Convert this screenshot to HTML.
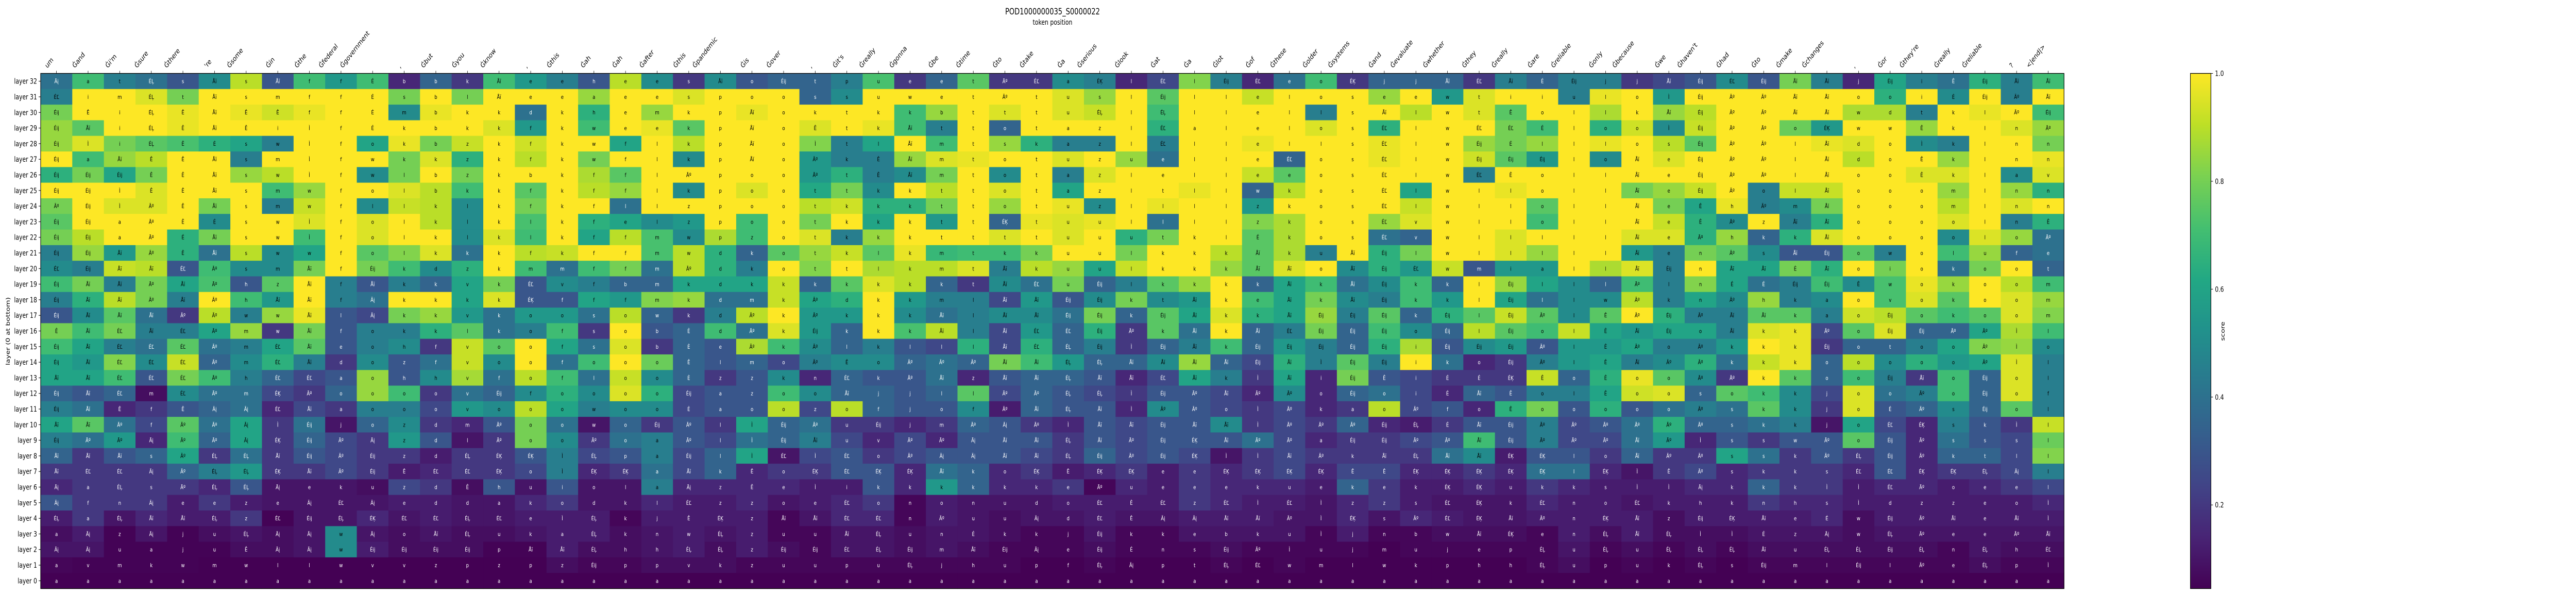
<!DOCTYPE html>
<html><head><meta charset="utf-8"><style>
html,body{margin:0;padding:0;background:#fff;width:100vw;height:100vh;overflow:hidden;}
svg{display:block;font-family:"DejaVu Sans","Liberation Sans",sans-serif;overflow:hidden;width:100vw;height:100vh;}
</style></head><body>
<svg id="chart" viewBox="0 0 6400 1155" preserveAspectRatio="none" xmlns="http://www.w3.org/2000/svg">
<text x="2615" y="28" font-size="16.7" text-anchor="middle" fill="#000">POD1000000035_S0000022</text>
<text x="2615" y="48" font-size="13.9" text-anchor="middle" fill="#000">token position</text>
<text transform="translate(24,643) rotate(-90)" font-size="13.9" text-anchor="middle" fill="#000">layer (0 at bottom)</text>
<g id="cells"></g>
<g id="xaxis"></g>
<g id="yaxis"></g>
<rect x="101" y="142.5" width="5027" height="1000" fill="none" stroke="#000" stroke-width="1.3"/>
<defs><linearGradient id="vir" x1="0" y1="1" x2="0" y2="0">
<stop offset="0" stop-color="#440154"/><stop offset="0.1" stop-color="#482475"/><stop offset="0.2" stop-color="#414487"/><stop offset="0.3" stop-color="#355f8d"/><stop offset="0.4" stop-color="#2a788e"/><stop offset="0.5" stop-color="#21918c"/><stop offset="0.6" stop-color="#22a884"/><stop offset="0.7" stop-color="#44bf70"/><stop offset="0.8" stop-color="#7ad151"/><stop offset="0.9" stop-color="#bddf26"/><stop offset="1" stop-color="#fde725"/>
</linearGradient></defs>
<rect x="5442" y="142.5" width="51" height="1000" fill="url(#vir)" stroke="#000" stroke-width="1.3"/>
<g id="cbar"></g>
<text transform="translate(5527,643) rotate(-90)" font-size="13.9" text-anchor="middle" fill="#000">score</text>
</svg>
<script>
const layerLabels = ["layer 32","layer 31","layer 30","layer 29","layer 28","layer 27","layer 26","layer 25","layer 24","layer 23","layer 22","layer 21","layer 20","layer 19","layer 18","layer 17","layer 16","layer 15","layer 14","layer 13","layer 12","layer 11","layer 10","layer 9","layer 8","layer 7","layer 6","layer 5","layer 4","layer 3","layer 2","layer 1","layer 0"];
const tokens = ["um","Ġand","Ġi'm","Ġsure","Ġthere","'re","Ġsome","Ġin","Ġthe","Ġfederal","Ġgovernment",",","Ġbut","Ġyou","Ġknow",",","Ġthis","Ġah","Ġah","Ġafter","Ġthis","Ġpandemic","Ġis","Ġover",",","Ġit's","Ġreally","Ġgonna","Ġbe","Ġtime","Ġto","Ġtake","Ġa","Ġserious","Ġlook","Ġat","Ġa","Ġlot","Ġof","Ġthese","Ġolder","Ġsystems","Ġand","Ġevaluate","Ġwhether","Ġthey","Ġreally","Ġare","Ġreliable","Ġonly","Ġbecause","Ġwe","Ġhaven't","Ġhad","Ġto","Ġmake","Ġchanges",",","Ġor","Ġthey're","Ġreally","Ġreliable","?","<|end|>"];
const colorTicks = [0.2,0.4,0.6,0.8,1.0];
const colorMin = 0.045, colorMax = 1.0;
// scores per token column, rows listed from layer 32 down to layer 0
const scores = [
[0.4,0.45,0.8,0.85,0.85,1,0.65,1,0.8,0.75,0.8,0.45,0.5,0.7,0.45,0.3,0.8,0.7,0.6,0.6,0.35,0.45,0.6,0.45,0.35,0.2,0.15,0.3,0.12,0.08,0.1,0.06,0.02],
[0.7,1,1,0.75,0.95,0.7,0.8,1,1,1,0.9,0.85,0.45,0.8,0.65,0.5,0.7,0.6,0.55,0.6,0.3,0.4,0.75,0.4,0.2,0.2,0.2,0.2,0.2,0.12,0.1,0.05,0.02],
[0.45,1,1,1,0.8,0.85,0.6,1,0.95,1,1,0.55,0.92,0.45,0.9,0.75,0.8,0.45,0.82,0.7,0.35,0.15,0.4,0.55,0.3,0.2,0.2,0.2,0.1,0.05,0.05,0.05,0.02],
[0.4,0.95,1,1,0.75,0.9,0.8,0.95,0.95,1,1,0.85,0.9,0.8,0.8,0.4,0.45,0.4,0.5,0.3,0.08,0.2,0.25,0.15,0.35,0.2,0.2,0.2,0.15,0.1,0.05,0.05,0.02],
[0.3,0.8,0.97,0.97,0.72,1,1,1,1,1,0.65,0.65,0.3,0.6,0.45,0.2,0.45,0.75,0.92,0.8,0.5,0.3,0.75,0.7,0.6,0.35,0.2,0.12,0.12,0.05,0.05,0.05,0.02],
[0.5,1,1,1,0.65,1,1,1,0.8,0.5,0.8,0.4,0.7,0.72,1,0.9,0.6,0.4,0.35,0.7,0.4,0.35,0.4,0.35,0.2,0.45,0.15,0.2,0.12,0.08,0.05,0.04,0.02],
[0.9,1,0.97,1,0.6,0.45,0.85,1,1,1,1,0.9,0.5,0.3,0.7,0.45,0.85,0.45,0.5,0.45,0.4,0.4,0.6,0.6,0.4,0.55,0.3,0.12,0.2,0.1,0.08,0.04,0.02],
[0.3,1,0.93,1,0.45,1,0.9,0.7,0.45,1,1,0.5,0.5,0.75,0.55,0.85,0.2,0.6,0.65,0.35,0.25,0.15,0.2,0.2,0.2,0.2,0.1,0.1,0.05,0.08,0.08,0.04,0.02],
[0.7,1,0.97,1,1,1,1,0.85,0.92,0.95,0.7,0.6,0.8,1,1,0.97,0.8,0.75,0.45,0.25,0.2,0.25,0.4,0.35,0.3,0.2,0.1,0.1,0.1,0.1,0.1,0.04,0.02],
[0.55,1,1,1,1,1,1,1,1,1,1,1,1,0.45,0.45,0.3,0.3,0.3,0.2,0.3,0.35,0.2,0.1,0.25,0.25,0.25,0.1,0.1,0.1,0.5,0.5,0.04,0.02],
[0.7,1,1,1,0.6,1,0.5,1,0.5,0.95,0.95,0.75,0.8,0.3,0.4,0.25,0.45,0.45,0.5,0.85,0.85,0.45,0.35,0.2,0.2,0.2,0.08,0.1,0.15,0.1,0.12,0.04,0.02],
[0.15,0.8,0.5,1,0.97,0.8,0.8,0.95,0.92,1,1,0.82,0.7,0.45,1,0.8,0.45,0.5,0.3,0.3,0.7,0.45,0.5,0.55,0.2,0.12,0.25,0.12,0.1,0.08,0.08,0.04,0.02],
[0.35,1,0.97,1,0.8,0.95,1,0.9,0.9,0.9,1,0.95,0.5,0.35,1,0.85,0.65,0.2,0.4,0.5,0.2,0.25,0.2,0.3,0.12,0.15,0.2,0.12,0.12,0.1,0.08,0.04,0.02],
[0.2,0.8,1,1,0.92,0.65,0.8,0.7,0.5,0.5,0.5,0.4,0.65,0.6,0.6,0.55,0.75,0.92,0.92,0.87,0.4,0.55,0.15,0.1,0.2,0.2,0.08,0.1,0.1,0.08,0.08,0.04,0.02],
[0.7,1,1,0.95,1,1,1,1,1,1,0.95,1,1,0.8,0.95,0.4,0.4,0.75,0.5,0.4,0.35,0.5,0.3,0.2,0.2,0.2,0.3,0.1,0.1,0.08,0.05,0.04,0.02],
[0.55,1,0.4,0.55,0.93,0.9,1,0.75,0.8,0.72,0.7,0.9,0.7,0.3,0.3,0.55,0.45,1,1,0.9,0.5,0.9,0.8,0.8,0.3,0.25,0.1,0.15,0.12,0.1,0.05,0.04,0.02],
[0.45,1,1,1,1,1,1,1,1,1,1,0.92,0.4,0.5,0.3,0.55,0.7,0.6,0.4,0.7,0.65,0.6,0.4,0.5,0.45,0.45,0.3,0.2,0.12,0.12,0.12,0.08,0.02],
[0.3,0.85,0.65,0.7,1,0.8,0.88,0.9,1,0.65,0.6,1,0.7,0.45,0.6,0.4,0.2,0.4,0.7,0.4,0.5,0.45,0.1,0.2,0.25,0.15,0.1,0.1,0.12,0.12,0.08,0.06,0.02],
[0.9,1,1,1,0.6,1,0.75,0.85,0.4,0.6,0.9,1,0.8,0.35,0.55,0.9,1,0.95,1,0.92,0.95,0.5,0.35,0.4,0.3,0.2,0.1,0.1,0.06,0.08,0.08,0.06,0.02],
[0.5,1,0.85,0.97,1,1,1,1,1,0.5,0.72,0.72,0.4,0.35,0.82,0.35,0.3,0.2,0.78,0.5,0.65,0.5,0.2,0.45,0.45,0.4,0.45,0.15,0.12,0.1,0.1,0.08,0.02],
[0.2,0.95,1,0.75,0.9,0.5,1,0.5,1,0.55,0.5,0.9,0.9,0.6,0.85,0.2,0.35,0.35,0.35,0.35,0.25,0.25,0.3,0.3,0.25,0.25,0.15,0.12,0.12,0.12,0.12,0.08,0.02],
[0.5,1,1,1,1,1,1,1,1,1,0.88,0.65,0.65,0.6,0.4,0.45,0.7,0.3,0.3,0.2,0.3,0.3,0.2,0.25,0.35,0.35,0.15,0.12,0.12,0.1,0.08,0.08,0.02],
[0.3,1,0.97,1,1,1,1,0.95,1,0.7,0.7,0.35,0.45,0.6,0.4,0.9,0.4,0.88,0.35,0.3,0.3,0.3,0.6,0.4,0.6,0.15,0.15,0.15,0.12,0.12,0.12,0.06,0.02],
[0.35,1,1,1,1,1,1,1,1,1,1,0.75,1,0.92,0.92,1,0.95,0.7,0.25,0.5,0.7,0.9,0.35,0.35,0.1,0.2,0.15,0.1,0.06,0.06,0.08,0.06,0.02],
[0.35,0.35,1,0.95,0.82,0.55,0.55,0.62,0.9,0.8,0.95,0.85,0.82,0.35,0.6,0.55,0.55,0.5,0.45,0.15,0.5,0.25,0.4,0.45,0.25,0.2,0.12,0.12,0.1,0.06,0.06,0.06,0.02],
[0.45,0.5,1,1,0.45,0.45,0.65,0.8,0.93,1,0.45,0.92,1,0.75,0.65,0.55,0.35,0.35,0.5,0.35,0.35,0.9,0.2,0.25,0.3,0.3,0.12,0.15,0.15,0.1,0.1,0.06,0.02],
[0.72,1,1,0.97,0.6,0.45,0.45,0.5,0.65,0.6,0.85,0.75,0.88,0.95,1,1,1,0.45,0.5,0.3,0.35,0.35,0.2,0.15,0.2,0.3,0.3,0.2,0.15,0.1,0.1,0.06,0.02],
[0.2,1,0.7,0.7,1,0.85,0.5,1,0.65,1,1,0.97,0.9,0.9,0.55,0.5,0.72,0.3,0.35,0.3,0.3,0.3,0.15,0.25,0.25,0.15,0.15,0.06,0.06,0.08,0.08,0.06,0.02],
[0.35,1,0.85,0.45,0.7,0.95,0.8,0.9,0.8,0.55,1,0.68,0.9,0.35,0.45,0.4,0.9,0.25,0.4,0.4,0.35,0.3,0.2,0.15,0.3,0.4,0.55,0.12,0.12,0.1,0.1,0.06,0.02],
[0.75,1,1,1,1,0.97,1,1,1,1,1,0.7,0.95,0.2,0.45,0.45,0.45,0.65,0.35,0.15,0.75,0.5,0.35,0.3,0.3,0.35,0.35,0.1,0.1,0.1,0.08,0.06,0.02],
[0.2,1,0.95,0.35,0.85,1,0.5,0.95,0.85,0.35,0.95,0.7,0.45,0.5,0.25,0.5,0.25,0.25,0.8,0.3,0.25,0.12,0.3,0.3,0.3,0.15,0.15,0.1,0.08,0.08,0.06,0.06,0.02],
[0.2,1,1,1,0.65,1,1,1,1,0.97,1,0.8,0.9,0.4,0.55,0.5,0.55,0.65,0.7,0.35,0.35,0.35,0.2,0.3,0.25,0.2,0.15,0.1,0.1,0.06,0.06,0.04,0.02],
[0.5,0.95,0.95,1,0.45,0.95,0.45,0.6,0.97,0.95,0.95,1,0.85,0.8,0.3,0.4,0.35,0.35,0.55,0.35,0.3,0.3,0.15,0.2,0.2,0.12,0.2,0.12,0.1,0.06,0.06,0.04,0.02],
[0.45,0.85,0.92,1,0.45,1,0.95,1,0.5,0.97,1,1,0.6,0.35,0.5,0.8,0.65,0.45,0.35,0.3,0.25,0.3,0.3,0.3,0.35,0.15,0.06,0.12,0.12,0.1,0.08,0.06,0.02],
[0.15,1,1,1,1,0.85,1,1,1,1,0.65,0.8,0.92,0.45,0.8,0.35,0.2,0.2,0.35,0.15,0.2,0.15,0.25,0.25,0.25,0.2,0.15,0.12,0.1,0.06,0.06,0.04,0.02],
[0.25,0.75,0.7,0.65,0.45,0.4,1,1,0.97,0.4,0.8,1,1,0.75,0.5,0.75,0.75,0.35,0.5,0.25,0.3,0.5,0.3,0.3,0.3,0.12,0.12,0.12,0.1,0.06,0.06,0.04,0.02],
[0.82,1,1,1,1,1,1,0.97,1,1,1,1,1,0.85,0.55,0.6,0.4,0.45,0.85,0.6,0.3,0.3,0.3,0.3,0.25,0.2,0.2,0.2,0.12,0.1,0.06,0.04,0.02],
[0.45,1,1,1,1,1,1,1,1,1,1,0.9,0.85,1,1,0.95,1,0.7,0.35,0.45,0.25,0.25,0.5,0.3,0.1,0.15,0.15,0.15,0.12,0.1,0.08,0.06,0.02],
[0.15,0.92,1,1,0.97,1,0.92,0.35,0.55,0.82,0.75,0.75,0.75,0.35,0.7,0.65,0.35,0.35,0.25,0.2,0.15,0.2,0.2,0.4,0.2,0.2,0.15,0.12,0.12,0.1,0.06,0.04,0.02],
[0.4,1,1,1,1,0.35,0.75,0.9,1,0.88,0.88,0.88,0.95,0.6,0.6,0.6,0.45,0.55,0.65,0.6,0.5,0.25,0.25,0.25,0.25,0.25,0.15,0.12,0.1,0.1,0.06,0.06,0.02],
[0.7,1,0.45,0.95,1,1,1,1,1,1,1,0.45,1,0.7,0.8,0.85,0.8,0.45,0.45,0.15,0.15,0.15,0.2,0.15,0.2,0.15,0.12,0.1,0.1,0.06,0.06,0.04,0.02],
[0.2,1,1,1,1,1,1,1,1,1,1,1,0.5,0.4,0.5,0.45,0.35,0.35,0.75,0.8,0.35,0.2,0.35,0.2,0.2,0.25,0.35,0.15,0.15,0.12,0.06,0.04,0.02],
[0.35,0.85,1,0.65,0.97,0.97,1,1,1,0.85,0.4,0.65,0.65,0.5,0.45,0.75,0.7,0.65,0.45,0.3,0.4,0.9,0.15,0.2,0.2,0.25,0.2,0.2,0.1,0.06,0.04,0.04,0.02],
[0.35,1,0.9,1,1,1,1,0.6,0.92,0.95,0.35,0.8,0.55,0.7,0.7,0.35,0.5,0.88,1,0.25,0.25,0.25,0.12,0.25,0.2,0.15,0.12,0.12,0.15,0.06,0.06,0.04,0.02],
[0.35,0.55,1,1,1,1,1,1,1,1,1,1,0.92,0.35,0.55,0.65,0.35,0.3,0.4,0.2,0.15,0.3,0.2,0.3,0.4,0.15,0.12,0.1,0.12,0.08,0.06,0.04,0.02],
[0.2,0.95,0.95,1,0.85,0.93,0.45,1,1,1,1,1,0.3,1,1,0.75,0.9,0.5,0.15,0.2,0.35,0.15,0.3,0.7,0.5,0.2,0.15,0.1,0.1,0.08,0.06,0.04,0.02],
[0.45,1,0.75,0.8,0.8,0.75,1,0.97,1,1,0.95,0.95,0.55,0.85,0.6,0.92,0.75,0.55,0.2,0.2,0.3,0.65,0.3,0.3,0.12,0.15,0.12,0.1,0.1,0.08,0.06,0.04,0.02],
[0.35,1,1,0.7,0.85,0.55,1,1,0.75,0.7,1,0.85,0.55,0.6,0.4,0.75,0.7,0.3,0.45,0.92,0.45,0.8,0.45,0.45,0.3,0.4,0.2,0.15,0.12,0.06,0.06,0.06,0.02],
[0.45,0.45,1,1,1,1,1,1,1,1,1,1,1,0.5,0.5,0.5,0.92,0.55,0.55,0.35,0.45,0.3,0.25,0.25,0.3,0.4,0.15,0.12,0.12,0.12,0.1,0.08,0.02],
[0.45,0.97,0.88,0.65,0.97,0.5,1,1,1,1,1,1,0.88,0.35,0.5,0.75,0.6,0.55,0.6,0.65,0.6,0.65,0.3,0.25,0.2,0.15,0.12,0.12,0.12,0.08,0.06,0.04,0.02],
[0.2,1,1,0.93,1,1,1,0.8,1,1,0.95,0.55,0.95,0.7,0.9,1,0.55,0.6,0.45,0.97,0.93,0.3,0.4,0.4,0.35,0.1,0.12,0.1,0.12,0.12,0.08,0.06,0.02],
[0.25,0.55,0.85,0.5,0.9,0.95,1,0.85,0.8,0.92,0.95,0.45,0.45,0.45,0.45,0.65,0.6,0.45,0.5,0.75,0.95,0.4,0.65,0.55,0.2,0.2,0.12,0.12,0.08,0.08,0.06,0.04,0.02],
[0.3,1,0.9,0.92,0.75,1,1,0.92,0.6,0.65,0.65,0.8,1,0.82,0.6,0.45,0.6,0.45,0.65,0.5,0.35,0.45,0.35,0.15,0.2,0.25,0.15,0.12,0.12,0.08,0.08,0.06,0.02],
[0.5,1,1,1,1,1,1,1,0.97,0.5,0.85,0.75,0.6,0.6,0.5,0.45,0.45,0.55,0.4,0.2,0.75,0.4,0.35,0.3,0.6,0.15,0.15,0.12,0.12,0.08,0.06,0.04,0.02],
[0.3,1,1,1,1,1,1,0.45,0.45,1,0.35,0.5,0.6,0.4,0.85,0.75,0.95,1,0.92,1,0.7,0.75,0.4,0.2,0.4,0.2,0.35,0.2,0.12,0.1,0.08,0.06,0.02],
[0.8,1,1,0.78,1,1,1,0.92,0.5,0.45,0.65,0.3,0.8,0.45,0.45,0.75,0.97,0.97,0.97,0.75,0.5,0.5,0.45,0.3,0.2,0.2,0.2,0.15,0.12,0.1,0.08,0.06,0.02],
[0.45,1,1,0.55,0.97,1,1,0.92,0.8,0.65,0.95,0.3,0.65,0.7,0.5,0.45,0.25,0.2,0.35,0.35,0.25,0.2,0.1,0.3,0.3,0.2,0.2,0.15,0.15,0.1,0.08,0.06,0.02],
[0.15,1,0.88,1,0.95,0.9,1,1,1,1,1,0.75,1,0.5,1,0.93,0.75,0.35,0.9,0.7,0.95,0.95,0.6,0.75,0.2,0.15,0.12,0.12,0.08,0.08,0.08,0.06,0.02],
[0.6,0.65,0.88,1,1,1,1,1,1,1,1,0.45,0.8,0.72,0.72,0.9,0.95,0.35,0.5,0.45,0.4,0.3,0.25,0.3,0.3,0.3,0.15,0.12,0.12,0.1,0.08,0.06,0.02],
[0.45,1,0.45,0.85,0.5,1,0.95,1,1,1,1,1,1,0.97,0.95,0.75,0.35,0.45,0.65,0.2,0.45,0.35,0.15,0.15,0.15,0.15,0.15,0.12,0.12,0.1,0.08,0.06,0.02],
[0.4,0.5,1,1,0.45,0.85,0.95,0.85,0.9,0.95,0.5,0.7,0.4,0.85,0.75,0.7,0.35,0.6,0.55,0.7,0.7,0.5,0.45,0.4,0.35,0.2,0.12,0.12,0.12,0.1,0.06,0.06,0.02],
[0.65,1,0.97,1,1,1,1,1,1,1,0.95,0.85,0.8,1,1,0.75,0.6,0.82,0.6,0.35,0.35,0.35,0.3,0.3,0.35,0.2,0.15,0.12,0.12,0.1,0.1,0.08,0.02],
[0.45,0.45,1,0.95,1,1,0.5,0.85,0.95,0.45,0.85,0.35,1,0.9,0.95,0.95,0.88,0.85,0.95,0.95,0.95,0.75,0.2,0.25,0.25,0.25,0.2,0.12,0.12,0.1,0.08,0.06,0.02],
[0.7,1,0.7,0.85,0.8,0.97,0.95,0.65,1,0.65,0.4,0.4,0.35,0.7,0.85,0.82,0.7,0.5,0.45,0.45,0.45,0.45,0.92,0.78,0.82,0.45,0.25,0.15,0.12,0.1,0.08,0.06,0.02]
];
// cell annotations per token column, layer 32 down to layer 0
const cellText = [
"Āį ÉĽ Éij Éij Éij Éij Éij Éij Āº Éij Éij Éij ÉĽ Éij Éij Éij Ê Éij Éij Åĭ Éij Éij Åĭ Éij Åĭ Åĭ Āį Āį ÉĻ a Āį a a",
"a i Ê Åĭ Ì a Éij Éij Éij Éij Éij Éij Éij Åĭ Åĭ Åĭ Åĭ Åĭ Åĭ Åĭ Åĭ Åĭ Åĭ Āº Åĭ ÉĽ a f a Āį Āį v a",
"t m i i i Åĭ Éij Ì Ì a a Åĭ Åĭ Åĭ Åĭ Åĭ ÉĽ ÉĽ ÉĽ ÉĽ ÉĽ Ê Āº Āº Åĭ ÉĽ ÉĻ n ÉĻ z u m a",
"ÉĻ ÉĻ ÉĻ ÉĻ ÉĻ Ê Ê Ê Āº Āº Āº Āº Åĭ Āº Āº Åĭ Åĭ ÉĽ ÉĽ ÉĽ m f f Āį s Āį s Āį Åĭ Āį a k a",
"s t Ê Ê Ê Ê Ê Ê Ê Ê É Ê ÉĽ Åĭ Åĭ Āº ÉĽ ÉĽ ÉĽ ÉĽ ÉĽ Ê Āº Āº Āº Āº Āº e Åĭ j j w a",
"Åĭ Åĭ Åĭ Åĭ É Åĭ Åĭ Åĭ Åĭ É Åĭ Åĭ Āº Āº Āº Āº Āº Āº Āº Āº Āº Āį Āº Āº ÉĻ ÉĻ ÉĻ e ÉĻ u u m a",
"s s Ê Ê s s s s s s s s s h h w m m m h m Āį Āį Āį ÉĻ ÉĻ ÉĻ z z ÉĻ Ê w a",
"Åĭ m Ê i w m w m m w w w m z Åĭ w w ÉĽ ÉĽ ÉĽ ÉĶ ÉĽ Ì ÉĶ Åĭ ÉĶ Āį e ÉĽ Āį Āį l a",
"f f f Ì Ì Ì Ì w w Ì Ì w Åĭ Åĭ Åĭ Åĭ Åĭ Åĭ Åĭ ÉĽ Āº Åĭ Éij Éij Éij Åĭ e Āį Éij Āį Āį l a",
"f f f f f f f f f f f f f f f l f e d a o a j Āº Āº Āº k ÉĽ ÉĻ w w w a",
"É É É É o w w o l o o o Éij Åĭ Āį Āį o o o o o o o Āį Éij Éij u Āį ÉĶ Āį Éij v a",
"b s m k k k l l l l l l k k k k k h z h o o z z z Ê z e ÉĽ o Éij v a",
"b b b b b k b b k k k k d k k k k f f h o o d d d ÉĽ d d ÉĽ Åĭ Éij z a",
"k l k k z z z k l l l k z v k v l v v v v v m l ÉĻ ÉĽ Ê d ÉĻ ÉĻ Éij p a",
"Åĭ Åĭ k k k k k k k k k k k k k k k o o f Éij o Āº Āº ÉĶ ÉĶ h a ÉĽ u p z a",
"e e d f f f b f f l l f m ÉĽ ÉĶ o o o o o f o o o ÉĶ o u k e k Åĭ p a",
"e e k k k k k k k k k k m v f o f f f f o o o o Ì Ì i o Ì a Åĭ z a",
"h a h w w w f f f f f f f f f s s s o l o w w Āº ÉĻ ÉĶ o d ÉĻ ÉĻ ÉĻ Éij a",
"e e e e f f f f l e f f f b f o o o o o o o o o p ÉĶ l k k k h p a",
"e e m e l l l l l l m m m m m w b b o o o o Éij a a a a l j n h p a",
"s s k k k k Āº k z z w w Āº k k k Ė Ė Ê Ė Éij Ė Āº Āº Éij Åĭ Āį ÉĽ Ê w ÉĻ v a",
"Åĭ p p p p p p p p p p d d d d d d e l z a a l l l k z z ÉĶ ÉĻ ÉĻ k a",
"o o Åĭ Åĭ Åĭ Åĭ o o o o z k k k m Āº Āº Āº m z z o Ì Ì Ì Ê Ê z z z z z a",
"Éij o o o o o o o o o o o o k k k k k o k o o Éij Éij ÉĽ o e o Åĭ u Éij u a",
"t s k Ê Ì Āº Āº t t t t t t k Āº Āº Éij Āº Āº n o z Āº Åĭ Ì ÉĶ Ì e Åĭ u Éij u a",
"p s t t t k t t k k k k t k d k k l Ê ÉĽ Åĭ o u u ÉĽ ÉĽ i ÉĽ ÉĽ Åĭ ÉĽ p a",
"u u k k l Ê Ê k k k k l l k k k k k o k j f Éij v o ÉĶ k o ÉĽ ÉĻ ÉĻ u a",
"e w k Åĭ Åĭ Åĭ Åĭ k k k k k k k k k k l Āº Āº j j j Āº Āº ÉĶ k n n u Éij ÉĻ a",
"e e b t m m m t t t t m m k m Åĭ Åĭ l Āº Åĭ l o m Āº Āį Åĭ k o Āº n m j a",
"t t t t t t t t t t t t t t l l l l Āº z l f Āº Āį Āį k k n u É Åĭ h a",
"Āº Āº t o s o o o o ÉĶ t k Åĭ Åĭ Åĭ Åĭ Åĭ Åĭ Åĭ Åĭ Āº Āº Āį Åĭ Åĭ o k u u k Éij u a",
"ÉĽ t t t k t t t t t t k k ÉĽ Åĭ Åĭ ÉĽ ÉĽ Åĭ Åĭ Āº Åĭ Āº Åĭ Åĭ ÉĶ k d Āį k Āį p a",
"a u u a a u a a u u u u u u Éij Éij ÉĽ ÉĻ ÉĻ ÉĻ ÉĻ ÉĻ Ì ÉĻ ÉĻ Ê e o d j e f a",
"ÉĶ s ÉĻ z z z z z z u u u u Éij Éij Éij Éij Éij ÉĻ Åĭ ÉĻ Åĭ Åĭ Åĭ Éij ÉĶ Āº ÉĽ ÉĽ Éij Éij ÉĻ a",
"l l l l l u l l l l u l l l k k Āº Ì Åĭ Åĭ Ì Ì Åĭ Āº Āº ÉĶ u Ê Ê k É Āį a",
"ÉĽ Éij ÉĻ ÉĽ ÉĽ e e t l l t k k k t Éij k Éij Åĭ ÉĽ Éij Āº Éij Éij Éij e e ÉĽ Āį k n p a",
"l l l a l l l l l l k k k k Åĭ Åĭ Åĭ Åĭ Åĭ Åĭ Āº Āº Åĭ ÉĶ ÉĶ e e z Āį e s t a",
"Éij l l l l l l l l l l k k k k k k k Åĭ k Åĭ o Åĭ Åĭ Ì ÉĶ e ÉĽ Åĭ b Éij ÉĻ a",
"ÉĽ e e e e e e w z z É Åĭ Åĭ k e k Åĭ Éij Éij Ì Āº Ì Ì Āº Ì ÉĶ k Ì Åĭ k Āº ÉĽ a",
"e l l l l ÉĽ e k k k k k Åĭ Åĭ Åĭ Åĭ ÉĽ Éij Åĭ Åĭ Āº Āº Āº Āº Åĭ ÉĶ u ÉĽ Āº u Ì w a",
"o o l o l o o o o o o u o k k Éij Éij Éij Ì i o k Āº a Āº ÉĶ e Ì Ì Ì u m a",
"ÉĶ s s s s s s s s s s Åĭ Åĭ Åĭ Åĭ Éij Éij Éij Éij Éij Éij a Āº Éij k Ê k z ÉĶ j j l a",
"j e Åĭ ÉĽ ÉĽ ÉĽ ÉĽ ÉĽ ÉĽ ÉĽ ÉĽ Éij Éij Éij Éij Éij Éij Éij Éij Ê o o Éij Éij Åĭ Ê e z s n m w a",
"j e l l l l l l l v v l ÉĽ k k k o i i i i Āº ÉĻ Āº ÉĻ ÉĶ k s Āº b u k a",
"Åĭ w w w w w w w w w w w w k k Éij Éij Éij k É É f É Āº Åĭ ÉĶ ÉĶ ÉĽ ÉĽ w j p a",
"ÉĽ t t ÉĽ Éij Éij ÉĽ l l l l l m l l l l Éij o É Åĭ o Åĭ Åĭ Åĭ ÉĶ ÉĶ ÉĶ ÉĶ Åĭ e h a",
"Åĭ i Ê ÉĽ É Éij Ê l l l l l i Éij Éij Éij Éij Éij Éij ÉĶ Ê Ê Éij Éij ÉĶ ÉĶ u k Åĭ ÉĶ p h a",
"É i o É l Éij o o o o l l a l l Āº o Āº Āº Ê o o Āº Āº ÉĶ ÉĶ k ÉĽ Āº e ÉĻ ÉĻ a",
"Éij u l l l l l l l l l l l l l l l l l o l o Āº Āº l l k n n n u u a",
"j l l o l o l l l l l l l l w Ê Ê Ê Ê Ê Ê o Āº Āº o ÉĶ s o ÉĶ ÉĻ ÉĻ p a",
"j o k o o Åĭ Åĭ Åĭ Åĭ Åĭ Åĭ Åĭ Åĭ Āº Āº Āº Åĭ Āº Åĭ o o o Āº Åĭ Åĭ Ì Ì ÉĽ Åĭ Åĭ u u a",
"Åĭ Ì Åĭ Ì s e e e e e e e Éij l k Éij Éij o Āº o o o Āº Āº Āº Ê Ì k z ÉĻ ÉĻ k a",
"Éij Éij Éij Éij Éij Éij Éij Éij Ê Ê Āº n n n n Āº o Āº Āº Āº s Āº Āº Ì Āº Āº Āį h Éij Ì ÉĻ ÉĻ a",
"ÉĽ Āº Āº Āº Āº Āº Āº Āº h Āº h Āº Åĭ É Āº Åĭ Åĭ k k Āº o s s s s s k k ÉĶ Ì ÉĻ s a",
"Éij Āº Āº Āº Āº Āº Āº o Āº z k s Åĭ É h Åĭ k k k k k k k s s k k n Åĭ É Åĭ Éij a",
"Åĭ Åĭ Åĭ o l l l l m Åĭ k Åĭ Ė Éij k k k k k k k k k w k k k h e z u m a",
"Åĭ Åĭ Åĭ ÉĶ Åĭ Åĭ Åĭ Åĭ Åĭ Åĭ Åĭ Éij Åĭ Éij a a Āº Éij o o j j j Āº Āº s Ì s É Āį ÉĻ l a",
"j o w w d d o o o o o o o Ê o o o o o o o o o o ÉĻ ÉĽ Ì Ì w w ÉĻ Éij a",
"Éij o d w o o o o o o o w i w v Éij Éij t o Éij o É ÉĽ Éij Éij ÉĽ ÉĽ d Éij ÉĻ Éij l a",
"i i t Ê Ì Ê Ê o o o o o o o o o Éij o o Åĭ Āº Āº ÉĶ Āº Āº ÉĶ Āº z Āº Āº ÉĻ Āº a",
"Ê É k k k k k m m o o l k k k k Āº o o o o s s s k ÉĶ o z Åĭ e n e a",
"Éij Éij l l l l l l l l l u o o o o Āº Āº Āº Éij Éij Éij k s t ÉĻ e e e e ÉĻ ÉĻ a",
"Åĭ Āº Āº n n n a n n n o f o o o o Ì Ì Ì o o o Ì s l Āį e o Åĭ Āº h p a",
"Åĭ Åĭ Éij Āº n n v n n Ê Āº e t m m m l o l l f l l l l l l Ì Ì Åĭ ÉĽ Ì a"
];

const NS = "http://www.w3.org/2000/svg";
const PX0 = 101, PX1 = 5128, PY0 = 142.5, PY1 = 1142.5;
const CW = (PX1 - PX0) / tokens.length;
const RH = (PY1 - PY0) / layerLabels.length;
function xPos(i){ return PX0 + i * CW; }
function yPos(r){ return PY0 + r * RH; }
const VIR = ["#440154","#482475","#414487","#355f8d","#2a788e","#21918c","#22a884","#44bf70","#7ad151","#bddf26","#fde725"];
function hex(h){ return [parseInt(h.substr(1,2),16),parseInt(h.substr(3,2),16),parseInt(h.substr(5,2),16)]; }
function norm(v){ return Math.max(0, Math.min(1, (v - colorMin) / (colorMax - colorMin))); }
function viridis(v){
  const t = norm(v) * 10; const i = Math.min(9, Math.floor(t)); const f = t - i;
  const a = hex(VIR[i]), b = hex(VIR[i+1]);
  return "rgb(" + [0,1,2].map(k => Math.round(a[k] + (b[k]-a[k]) * f)).join(",") + ")";
}
function mk(tag, attrs, parent){
  const e = document.createElementNS(NS, tag);
  for (const k in attrs) e.setAttribute(k, attrs[k]);
  parent.appendChild(e); return e;
}
const cells = document.getElementById("cells");
scores.forEach((col, ci) => {
  const txt = (cellText[ci] || "").split(" ");
  col.forEach((v, ri) => {
    const r = mk("rect", {x: xPos(ci), y: yPos(ri), width: CW + 0.6, height: RH + 0.6, fill: viridis(v)}, cells);
    
    
    if (txt[ri]) {
      const t = mk("text", {x: xPos(ci) + CW/2, y: yPos(ri) + RH/2 + 4, "font-size": 11, "text-anchor": "middle", fill: norm(v) < 0.42 ? "#ffffff" : "#000000"}, cells);
      t.textContent = txt[ri];
      
      
    }
  });
});
const xa = document.getElementById("xaxis");
tokens.forEach((tok, i) => {
  const cx = xPos(i) + CW/2;
  const tk = mk("line", {x1: cx, x2: cx, y1: PY0, y2: PY0 - 5, stroke: "#000", "stroke-width": 1}, xa);
  
  
  const t = mk("text", {"font-size": 13.9, fill: "#000"}, xa);
  t.textContent = tok;
  
  
  let L = 0;
  try { L = t.getComputedTextLength(); } catch(e) { L = tok.length * 8; }
  if (!L || L > 200) L = tok.length * 8;
  const sx = cx - 0.7071 * (L + 10), sy = 133;
  t.setAttribute("transform", "translate(" + sx.toFixed(1) + "," + sy + ") rotate(-45)");
});
const ya = document.getElementById("yaxis");
layerLabels.forEach((lab, r) => {
  const cy = yPos(r) + RH/2;
  const tk = mk("line", {x1: PX0 - 5, x2: PX0, y1: cy, y2: cy, stroke: "#000", "stroke-width": 1}, ya);
  
  
  const t = mk("text", {x: PX0 - 9, y: cy + 5, "font-size": 13.9, "text-anchor": "end", fill: "#000"}, ya);
  t.textContent = lab;
  
  
});
const cb = document.getElementById("cbar");
colorTicks.forEach(v => {
  const y = PY1 - norm(v) * (PY1 - PY0);
  const tk = mk("line", {x1: 5493, x2: 5498, y1: y, y2: y, stroke: "#000", "stroke-width": 1}, cb);
  
  
  const t = mk("text", {x: 5503, y: y + 5, "font-size": 13.9, fill: "#000"}, cb);
  t.textContent = v.toFixed(1);
  
  
});
</script>
</body></html>
